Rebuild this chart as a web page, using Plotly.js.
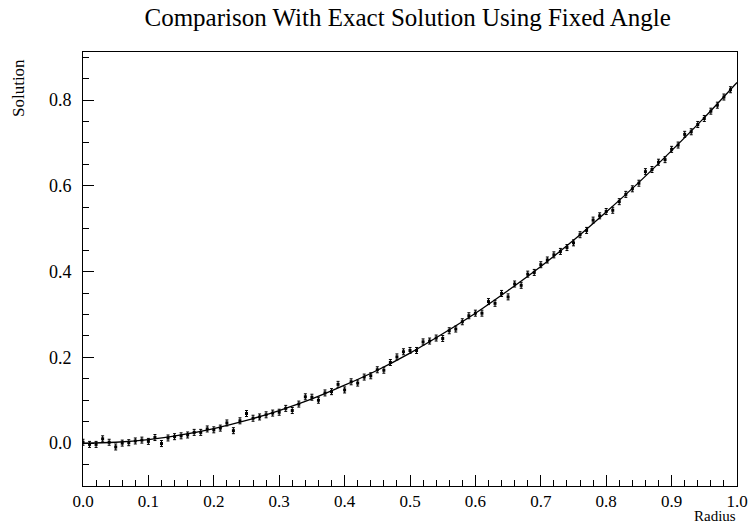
<!DOCTYPE html>
<html>
<head>
<meta charset="utf-8">
<script src="https://cdn.plot.ly/plotly-3.0.1.min.js"></script>
<style>html,body{margin:0;padding:0;background:#fff;}#chart{width:748px;height:526px;}</style>
</head>
<body>
<div id="chart"></div>
<script>
// Measured points (radius, solution) with error bars
const radius = [0.00,0.01,0.02,0.03,0.04,0.05,0.06,0.07,0.08,0.09,
  0.10,0.11,0.12,0.13,0.14,0.15,0.16,0.17,0.18,0.19,
  0.20,0.21,0.22,0.23,0.24,0.25,0.26,0.27,0.28,0.29,
  0.30,0.31,0.32,0.33,0.34,0.35,0.36,0.37,0.38,0.39,
  0.40,0.41,0.42,0.43,0.44,0.45,0.46,0.47,0.48,0.49,
  0.50,0.51,0.52,0.53,0.54,0.55,0.56,0.57,0.58,0.59,
  0.60,0.61,0.62,0.63,0.64,0.65,0.66,0.67,0.68,0.69,
  0.70,0.71,0.72,0.73,0.74,0.75,0.76,0.77,0.78,0.79,
  0.80,0.81,0.82,0.83,0.84,0.85,0.86,0.87,0.88,0.89,
  0.90,0.91,0.92,0.93,0.94,0.95,0.96,0.97,0.98,0.99];
const solution = [0.002,-0.003,-0.003,0.010,0.002,-0.009,0.000,0.001,0.005,0.007,
  0.004,0.013,-0.001,0.012,0.015,0.017,0.019,0.025,0.025,0.033,
  0.031,0.035,0.047,0.029,0.052,0.069,0.058,0.061,0.066,0.070,
  0.072,0.081,0.076,0.091,0.108,0.107,0.100,0.117,0.120,0.137,
  0.124,0.143,0.140,0.154,0.157,0.171,0.170,0.188,0.201,0.213,
  0.216,0.216,0.236,0.238,0.245,0.244,0.262,0.266,0.283,0.297,
  0.303,0.303,0.330,0.326,0.349,0.341,0.371,0.368,0.394,0.398,
  0.416,0.427,0.439,0.447,0.456,0.467,0.486,0.496,0.520,0.530,
  0.540,0.543,0.563,0.580,0.593,0.606,0.633,0.638,0.655,0.661,
  0.685,0.695,0.720,0.726,0.743,0.757,0.774,0.788,0.807,0.824];
const errorSize = 0.007;

// Exact solution curve
const exactR = [0.00,0.05,0.10,0.15,0.20,0.25,0.30,0.35,0.40,0.45,0.50,0.55,0.60,0.65,0.70,0.75,0.80,0.85,0.90,0.95,1.00];
const exactY = [0.000,0.002,0.008,0.019,0.034,0.053,0.076,0.103,0.135,0.170,0.210,0.255,0.303,0.356,0.412,0.473,0.539,0.608,0.682,0.759,0.841];

// Tick labels
const xTickVals = [0,0.1,0.2,0.3,0.4,0.5,0.6,0.7,0.8,0.9,1.0];
const xTickText = ['0.0','0.1','0.2','0.3','0.4','0.5','0.6','0.7','0.8','0.9','1.0'];

const titleText = 'Comparison With Exact Solution Using Fixed Angle';
const xTitle = 'Radius';
const yTitle = 'Solution';

const serif = 'Liberation Serif, Times New Roman, serif';

const traces = [
  {
    x: exactR, y: exactY, type: 'scatter', mode: 'lines',
    line: {color: '#000', width: 1.3, shape: 'spline', smoothing: 1},
    hoverinfo: 'skip', showlegend: false, cliponaxis: true
  },
  {
    x: radius, y: solution, type: 'scatter', mode: 'markers',
    marker: {color: '#000', size: 3, symbol: 'square'},
    error_y: {type: 'constant', value: errorSize, color: '#000', thickness: 1, width: 1.5},
    showlegend: false
  }
];

const layout = {
  width: 748, height: 526,
  margin: {l: 83, r: 11, t: 52, b: 40, pad: 0},
  paper_bgcolor: '#fff', plot_bgcolor: '#fff',
  font: {family: serif, color: '#000', size: 18},
  title: {text: titleText, font: {family: serif, size: 25, color: '#000'}, x: 0.545, xanchor: 'center', y: 0.968, yanchor: 'middle'},
  showlegend: false,
  xaxis: {
    range: [0, 1.0], tickmode: 'array', tickvals: xTickVals, ticktext: xTickText,
    ticks: 'inside', ticklen: 11, tickwidth: 1, tickcolor: '#000',
    ticklabeloverflow: 'allow',
    minor: {tickmode: 'linear', tick0: 0, dtick: 0.02, ticks: 'inside', ticklen: 6, tickwidth: 1, tickcolor: '#000', showgrid: false},
    showline: true, linecolor: '#000', linewidth: 1, mirror: true,
    showgrid: false, zeroline: false,
    tickfont: {family: serif, size: 17, color: '#000'}
  },
  yaxis: {
    range: [-0.1, 0.912], dtick: 0.2, tick0: 0, tickformat: '.1f',
    ticks: 'inside', ticklen: 11, tickwidth: 1, tickcolor: '#000',
    minor: {dtick: 0.05, ticks: 'inside', ticklen: 6, tickwidth: 1, tickcolor: '#000', showgrid: false},
    showline: true, linecolor: '#000', linewidth: 1, mirror: true,
    showgrid: false, zeroline: false,
    ticklabelstandoff: 7,
    tickfont: {family: serif, size: 18, color: '#000'}
  },
  annotations: [
    {text: xTitle, xref: 'paper', yref: 'paper', x: 1, y: -0.0905, xanchor: 'right', yanchor: 'bottom', borderpad: 0, showarrow: false, font: {family: serif, size: 15, color: '#000'}},
    {text: yTitle, xref: 'paper', yref: 'paper', x: -0.0994, y: 0.917, xanchor: 'center', yanchor: 'middle', textangle: -90, showarrow: false, font: {family: serif, size: 17, color: '#000'}}
  ]
};

Plotly.newPlot('chart', traces, layout, {displayModeBar: false, staticPlot: true});
</script>
</body>
</html>
